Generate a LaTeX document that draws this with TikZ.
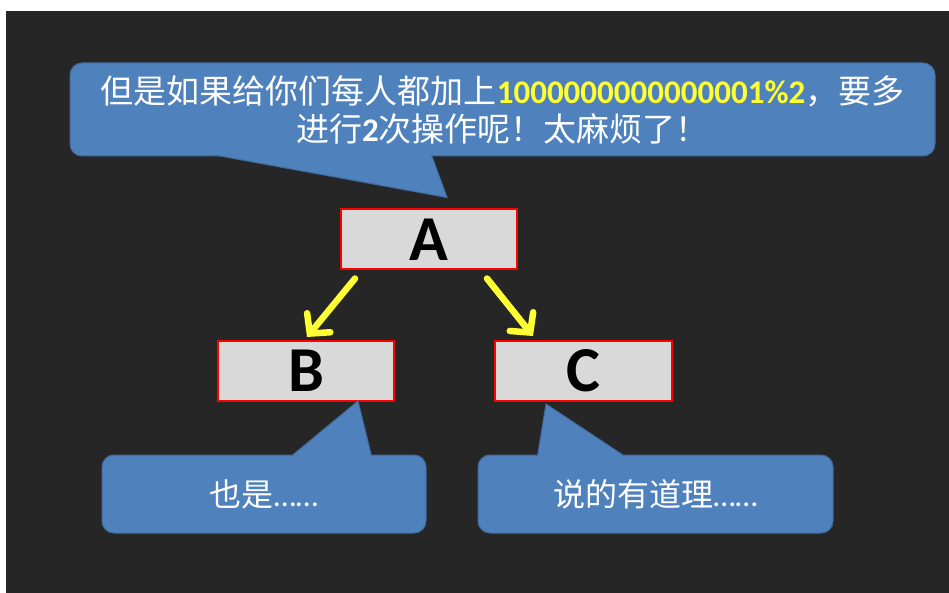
\documentclass[tikz,border=0pt]{standalone}
\usepackage{fontspec}
\setmainfont{Carlito}
\newfontfamily\cjk{Noto Sans CJK SC}
\usepackage{tikz}
\usetikzlibrary{positioning,arrows.meta,calc}
\definecolor{cBg}{HTML}{262626}
\definecolor{cBlue}{HTML}{4F81BD}
\definecolor{cEdge}{HTML}{3F6A9C}
\definecolor{cBox}{HTML}{D9D9D9}
\definecolor{cRed}{HTML}{FF0000}
\definecolor{cYellow}{HTML}{FFFF33}

\begin{document}
\begin{tikzpicture}[x=1pt,y=-1pt,
      say/.style={draw=cEdge,line width=1pt,fill=cBlue,rounded corners=12pt,text=white,align=center,inner sep=0pt},
      box/.style={draw=cRed,line width=2pt,fill=cBox,minimum width=176pt,minimum height=60pt,inner sep=0pt,
        font=\fontsize{64}{64}\selectfont\bfseries},
      arr/.style={-{Straight Barb[length=14pt,width=30pt,line cap=round]},line width=6.5pt,line cap=round,cYellow}]
    \useasboundingbox[fill=white] (0,0) rectangle (949,593);
    \fill[cBg] (6,11) rectangle (949,593);
    % the three boxes
    \node[box] (A) at (429,239.5) {A};
    \node[box] (B) at (306,371) {B};
    \node[box,minimum width=177pt] (C) at (583.5,371) {C};
    % callouts
    \node[say,minimum width=865pt,minimum height=93pt,font=\fontsize{33}{38}\selectfont] (top) at (502.5,109.5)
      {{\cjk 但是如果给你们每人都加上}{\bfseries\color{cYellow}1000000000000001\%2}{\cjk ，要多}\\
       {\cjk 进行}{\bfseries 2}{\cjk 次操作呢！太麻烦了！}};
    \node[say,minimum width=324pt,minimum height=78pt,font=\fontsize{32}{36}\selectfont] (sayB) at (264,494)
      {{\cjk 也是}……};
    \node[say,minimum width=355pt,minimum height=78pt,font=\fontsize{32}{36}\selectfont] (sayC) at (655.5,494)
      {{\cjk 说的有道理}……};
    \coordinate (t1) at ($(top.south west)+(145,-1.5)$);
    \coordinate (t2) at ($(top.south west)+(362,-1.5)$);
    \coordinate (tTip) at ($(A.north)+(18,-11)$);
    \coordinate (b1) at ($(sayB.north west)+(190,1.5)$);
    \coordinate (b2) at ($(sayB.north west)+(270,1.5)$);
    \coordinate (bTip) at ($(B.south)+(52,-1)$);
    \coordinate (c1) at ($(sayC.north west)+(60,1.5)$);
    \coordinate (c2) at ($(sayC.north west)+(147,1.5)$);
    \coordinate (cTip) at ($(C.south)+(-37.5,2)$);
    \foreach \p in {t,b,c} {
      \fill[cBlue] (\p1) -- (\p Tip) -- (\p2) -- cycle;
      \draw[cEdge,line width=1pt] (\p1) -- (\p Tip) -- (\p2);
    }
    % arrows
    \draw[arr] ($(A.south west)+(15,8)$) -- ($(B.north)+(1,-3)$);
    \draw[arr] ($(A.south east)+(-31,8)$) -- ($(C.north west)+(39,-4)$);
  \end{tikzpicture}
\end{document}
